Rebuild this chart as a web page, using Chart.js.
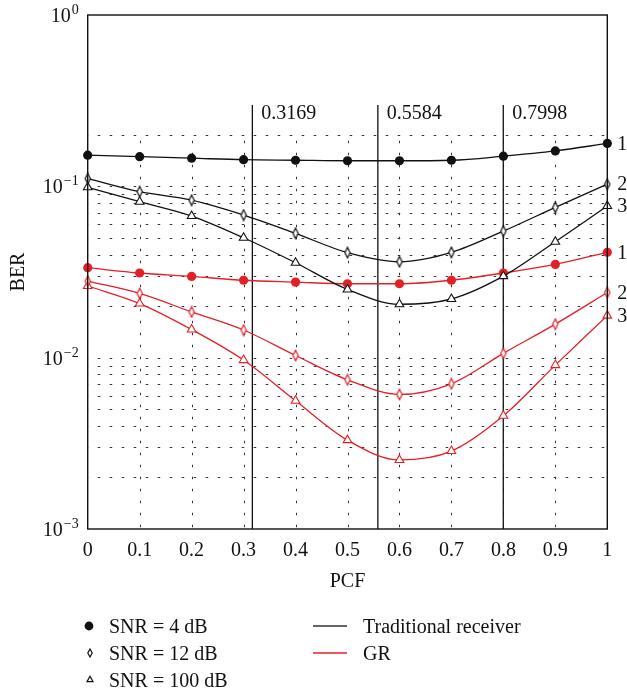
<!DOCTYPE html>
<html>
<head>
<meta charset="utf-8">
<script src="https://cdn.jsdelivr.net/npm/chart.js@4/dist/chart.umd.min.js"></script>
<style>
html,body{margin:0;padding:0;background:#fff;}
canvas{display:block;}
</style>
</head>
<body>
<canvas id="c" width="627" height="694" style="width:627px;height:694px"></canvas>
<script>
// ---- data ----
const pcf = [0, 0.1, 0.2, 0.3, 0.4, 0.5, 0.6, 0.7, 0.8, 0.9, 1];
const xTickLabels = ['0', '0.1', '0.2', '0.3', '0.4', '0.5', '0.6', '0.7', '0.8', '0.9', '1'];
const tradSnr4   = [0.152, 0.149, 0.146, 0.143, 0.142, 0.141, 0.141, 0.142, 0.150, 0.161, 0.178];
const tradSnr12  = [0.111, 0.093, 0.083, 0.068, 0.0532, 0.041, 0.0363, 0.0412, 0.0548, 0.0754, 0.103];
const tradSnr100 = [0.0987, 0.0813, 0.0671, 0.0501, 0.0358, 0.0250, 0.0205, 0.0220, 0.0299, 0.0475, 0.0767];
const grSnr4     = [0.0335, 0.0312, 0.0298, 0.0283, 0.0276, 0.0270, 0.0270, 0.0283, 0.0312, 0.0350, 0.0412];
const grSnr12    = [0.0280, 0.0237, 0.0185, 0.0145, 0.0103, 0.00743, 0.0061, 0.00704, 0.0106, 0.0157, 0.0240];
const grSnr100   = [0.0262, 0.0207, 0.0146, 0.00968, 0.0056, 0.0033, 0.00253, 0.00285, 0.00458, 0.00905, 0.0176];
const curveTags  = ['1', '2', '3', '1', '2', '3'];
const yTickExponents = [0, -1, -2, -3];
const pcfMarks = [0.3169, 0.5584, 0.7998];
const pcfMarkLabels = ['0.3169', '0.5584', '0.7998'];
const hGridValues = [0.2, 0.1, 0.09, 0.08, 0.07, 0.06, 0.05, 0.04, 0.03, 0.02,
                     0.01, 0.009, 0.008, 0.007, 0.006, 0.005, 0.004, 0.003, 0.002];
const vGridValues = [0.1, 0.2, 0.3, 0.4, 0.5, 0.6, 0.7, 0.8, 0.9];
const vGridTopValue = 0.2;
const snrLegend = ['SNR = 4 dB', 'SNR = 12 dB', 'SNR = 100 dB'];
const rxLegend = ['Traditional receiver', 'GR'];

// ---- styles ----
const FONT = '"Liberation Serif", "DejaVu Serif", serif';
const BLACK = '#111111';
const RED = '#e41f26';

function diamondCanvas(color) {
  const c = document.createElement('canvas');
  c.width = 8; c.height = 13;
  const g = c.getContext('2d');
  g.beginPath();
  g.moveTo(4, 1.2); g.lineTo(6.6, 6.5); g.lineTo(4, 11.8); g.lineTo(1.4, 6.5); g.closePath();
  g.fillStyle = '#fff'; g.fill();
  g.lineWidth = 1.2; g.strokeStyle = color; g.stroke();
  return c;
}
const dBlack = diamondCanvas(BLACK);
const dRed = diamondCanvas(RED);

function ds(label, data, color, style) {
  const o = {
    label, data: pcf.map((x, i) => ({x, y: data[i]})),
    borderColor: color, borderWidth: 1.3, cubicInterpolationMode: 'monotone',
    pointBorderColor: color, clip: false
  };
  if (style === 'circle') {
    Object.assign(o, {pointStyle: 'circle', pointRadius: 4.6, pointBackgroundColor: color, pointBorderWidth: 0});
  } else if (style === 'diamond') {
    Object.assign(o, {pointStyle: color === RED ? dRed : dBlack, pointRadius: 5});
  } else {
    Object.assign(o, {pointStyle: 'triangle', pointRadius: 5, pointBackgroundColor: '#fff', pointBorderWidth: 1.1});
  }
  return o;
}

const overlay = {
  id: 'overlay',
  beforeDatasetsDraw(chart) {
    const {ctx, chartArea: a, scales: {x, y}} = chart;
    ctx.save();
    ctx.strokeStyle = '#333';
    ctx.lineWidth = 1;
    ctx.setLineDash([2.5, 9.5]);
    hGridValues.forEach(v => {
      const py = Math.round(y.getPixelForValue(v)) + 0.5;
      ctx.beginPath(); ctx.lineDashOffset = -10; ctx.moveTo(a.left, py); ctx.lineTo(a.right, py); ctx.stroke();
    });
    const top = y.getPixelForValue(vGridTopValue) + 6;
    vGridValues.forEach(v => {
      const px = Math.round(x.getPixelForValue(v)) + 0.5;
      ctx.beginPath(); ctx.lineDashOffset = 0; ctx.moveTo(px, top); ctx.lineTo(px, a.bottom); ctx.stroke();
    });
    ctx.setLineDash([]);
    ctx.strokeStyle = BLACK;
    ctx.lineWidth = 1.3;
    ctx.fillStyle = BLACK;
    ctx.font = '20px ' + FONT;
    ctx.textBaseline = 'top';
    ctx.textAlign = 'left';
    pcfMarks.forEach((v, i) => {
      const px = x.getPixelForValue(v);
      ctx.beginPath(); ctx.moveTo(px, a.top + 90); ctx.lineTo(px, a.bottom); ctx.stroke();
      ctx.fillText(pcfMarkLabels[i], px + 9, a.top + 89);
    });
    ctx.restore();
  },
  afterDraw(chart) {
    const {ctx, chartArea: a, scales: {y}} = chart;
    ctx.save();
    // frame
    ctx.strokeStyle = BLACK; ctx.lineWidth = 1.4;
    ctx.strokeRect(a.left, a.top, a.right - a.left, a.bottom - a.top);
    // y tick labels 10^k
    ctx.fillStyle = BLACK;
    ctx.textBaseline = 'alphabetic';
    yTickExponents.forEach(e => {
      const py = y.getPixelForValue(Math.pow(10, e));
      const sup = e === 0 ? '0' : '\u2212' + Math.abs(e);
      ctx.font = '14px ' + FONT;
      ctx.textAlign = 'right';
      const sw = ctx.measureText(sup).width;
      ctx.fillText(sup, a.left - 9, py - 1);
      ctx.font = '20px ' + FONT;
      ctx.fillText('10', a.left - 10 - sw, py + 7);
    });
    // curve tags on the right
    ctx.font = '20px ' + FONT;
    ctx.textAlign = 'left';
    ctx.textBaseline = 'middle';
    curveTags.forEach((t, i) => {
      const pts = chart.getDatasetMeta(i).data;
      const p = pts[pts.length - 1];
      ctx.fillText(t, a.right + 10, p.y + 1);
    });
    // legend
    ctx.textBaseline = 'alphabetic';
    const lx = 89, tx = 109;
    const rows = [626, 653, 679.5];
    ctx.fillStyle = BLACK;
    ctx.beginPath(); ctx.arc(lx, rows[0], 4.4, 0, Math.PI * 2); ctx.fill();
    ctx.strokeStyle = BLACK; ctx.lineWidth = 1.2;
    ctx.beginPath(); ctx.moveTo(lx + 1, rows[1] - 4); ctx.lineTo(lx + 3.2, rows[1]); ctx.lineTo(lx + 1, rows[1] + 4); ctx.lineTo(lx - 1.2, rows[1]); ctx.closePath(); ctx.stroke();
    ctx.beginPath(); ctx.moveTo(lx + 1, rows[2] - 3.2); ctx.lineTo(lx + 4, rows[2] + 2.2); ctx.lineTo(lx - 2, rows[2] + 2.2); ctx.closePath(); ctx.stroke();
    ctx.font = '20px ' + FONT;
    ctx.fillStyle = BLACK;
    snrLegend.forEach((t, i) => ctx.fillText(t, tx, rows[i] + 7));
    const lineCols = ['#333', RED];
    rxLegend.forEach((t, i) => {
      ctx.strokeStyle = lineCols[i]; ctx.lineWidth = 1.4;
      ctx.beginPath(); ctx.moveTo(313, rows[i]); ctx.lineTo(347, rows[i]); ctx.stroke();
      ctx.fillStyle = BLACK;
      ctx.fillText(t, 363, rows[i] + 7);
    });
    ctx.restore();
  }
};

new Chart(document.getElementById('c'), {
  type: 'line',
  data: {
    datasets: [
      ds('Traditional, SNR = 4 dB', tradSnr4, BLACK, 'circle'),
      ds('Traditional, SNR = 12 dB', tradSnr12, BLACK, 'diamond'),
      ds('Traditional, SNR = 100 dB', tradSnr100, BLACK, 'triangle'),
      ds('GR, SNR = 4 dB', grSnr4, RED, 'circle'),
      ds('GR, SNR = 12 dB', grSnr12, RED, 'diamond'),
      ds('GR, SNR = 100 dB', grSnr100, RED, 'triangle')
    ]
  },
  options: {
    responsive: false,
    animation: false,
    devicePixelRatio: 1,
    layout: {padding: {left: 0, top: 15, right: 19.7, bottom: 100.6}},
    plugins: {legend: {display: false}, tooltip: {enabled: false}},
    scales: {
      x: {
        type: 'linear', min: 0, max: 1,
        grid: {display: false}, border: {display: false},
        afterBuildTicks: s => { s.ticks = pcf.map(v => ({value: v})); },
        afterFit: s => { s.height = 64.4; },
        ticks: {
          padding: 2, color: BLACK, font: {family: FONT, size: 20},
          maxRotation: 0, autoSkip: false,
          callback: (v) => { const i = pcf.findIndex(p => Math.abs(p - v) < 1e-9); return i >= 0 ? xTickLabels[i] : ''; }
        },
        title: {display: true, text: 'PCF', color: BLACK, font: {family: FONT, size: 20}, padding: {top: 0, bottom: 0}}
      },
      y: {
        type: 'logarithmic', min: 0.001, max: 1,
        grid: {display: false}, border: {display: false},
        ticks: {display: false},
        afterFit: s => { s.width = 87.7; },
        title: {display: true, text: 'BER', color: BLACK, font: {family: FONT, size: 20}, padding: {top: 6.6, bottom: 0}}
      }
    }
  },
  plugins: [overlay]
});
</script>
</body>
</html>
